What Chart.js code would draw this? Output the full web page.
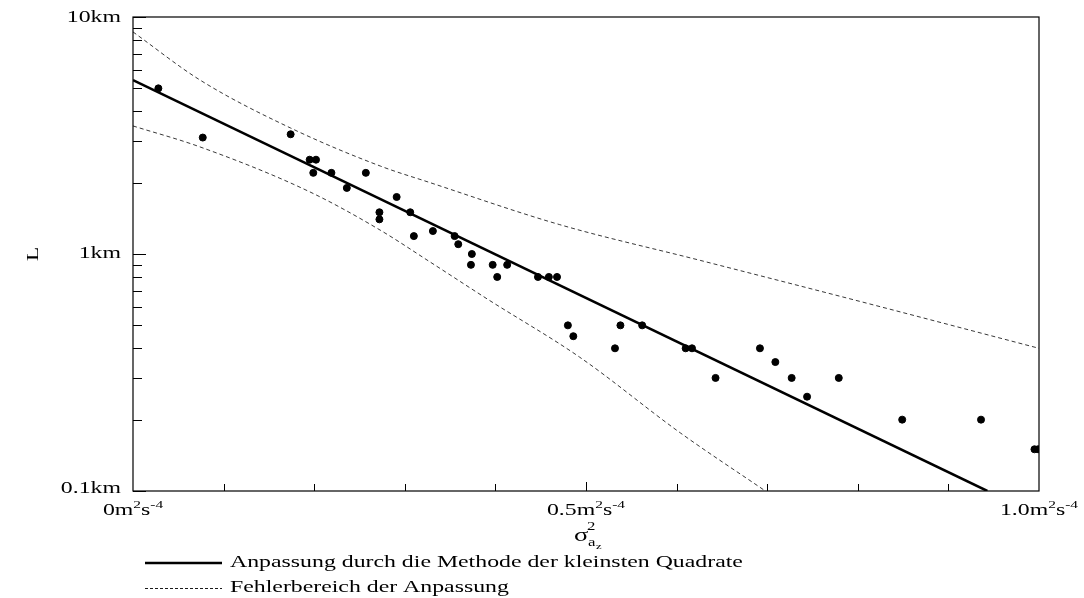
<!DOCTYPE html>
<html lang="de">
<head>
    <meta charset="UTF-8">
    <title>L gegen sigma</title>
    <script src="https://cdn.jsdelivr.net/npm/chart.js"></script>
    <style>
        body { margin: 0; background: #ffffff; }
        #wrap { width: 1084px; height: 598px; }
    </style>
</head>
<body>
<div id="wrap"><canvas id="chart"></canvas></div>
<script>
    // Messpunkte (sigma^2 in m^2 s^-4, L in km)
    const sigmaSq = [0.028, 0.077, 0.174, 0.195, 0.202, 0.199, 0.219, 0.236, 0.257, 0.291,
                     0.272, 0.272, 0.306, 0.310, 0.331, 0.355, 0.359, 0.374, 0.373, 0.397,
                     0.402, 0.413, 0.447, 0.459, 0.468, 0.480, 0.486, 0.532, 0.538, 0.562,
                     0.610, 0.617, 0.643, 0.692, 0.709, 0.727, 0.744, 0.779, 0.849, 0.936,
                     0.995, 0.999];
    const lengthKm = [5.0, 3.1, 3.2, 2.5, 2.5, 2.2, 2.2, 1.9, 2.2, 1.74,
                      1.5, 1.4, 1.5, 1.19, 1.25, 1.19, 1.1, 1.0, 0.9, 0.9,
                      0.8, 0.9, 0.8, 0.8, 0.8, 0.5, 0.45, 0.4, 0.5, 0.5,
                      0.4, 0.4, 0.3, 0.4, 0.35, 0.3, 0.25, 0.3, 0.2, 0.2,
                      0.15, 0.15];

    // Ausgleichsgerade
    const fitX = [0, 0.943];
    const fitY = [5.42, 0.1];

    // Fehlerbereich
    const upperX = [0, 0.074, 0.174, 0.273, 0.328, 0.471, 0.626, 0.810, 1.0];
    const upperY = [8.65, 5.42, 3.40, 2.35, 2.0, 1.33, 0.94, 0.62, 0.40];
    const lowerX = [0, 0.074, 0.195, 0.273, 0.328, 0.391, 0.493, 0.604, 0.698];
    const lowerY = [3.47, 2.83, 1.83, 1.26, 0.925, 0.646, 0.367, 0.176, 0.1];

    // Achsenbeschriftung
    const xTickValues = [0, 0.5, 1.0];
    const xTickLabels = ['0', '0.5', '1.0'];
    const xMinorTicks = [0.1, 0.2, 0.3, 0.4, 0.5, 0.6, 0.7, 0.8, 0.9];
    const yTickValues = [10, 1, 0.1];
    const yTickLabels = ['10km', '1km', '0.1km'];
    const yMinorTicks = [0.2, 0.3, 0.4, 0.5, 0.6, 0.7, 0.8, 0.9, 2, 3, 4, 5, 6, 7, 8, 9];

    const legendItems = ['Anpassung durch die Methode der kleinsten Quadrate', 'Fehlerbereich der Anpassung'];

    const toPts = (xs, ys) => xs.map((x, i) => ({ x: x, y: ys[i] }));
    const serif = '"Liberation Serif", "DejaVu Serif", serif';
    const SX = 1.4; // Schrift im Original ist breit gezogen

    // breite Schrift: misst und zeichnet mit horizontaler Streckung
    function textW(ctx, s, size) {
        ctx.font = size + 'px ' + serif;
        return ctx.measureText(s).width * SX;
    }
    function text(ctx, s, x, y, size, align) {
        ctx.font = size + 'px ' + serif;
        const w = ctx.measureText(s).width * SX;
        let x0 = x;
        if (align === 'right') x0 = x - w;
        else if (align === 'center') x0 = x - w / 2;
        ctx.save();
        ctx.translate(x0, y);
        ctx.scale(SX, 1);
        ctx.textAlign = 'left';
        ctx.fillText(s, 0, 0);
        ctx.restore();
        return w;
    }

    const decorations = {
        id: 'decorations',
        afterDraw(chart) {
            const ctx = chart.ctx;
            const a = chart.chartArea;
            const xs = chart.scales.x, ys = chart.scales.y;
            ctx.save();
            ctx.strokeStyle = '#000';
            ctx.fillStyle = '#000';

            // Rahmen
            ctx.lineWidth = 1.2;
            ctx.strokeRect(a.left, a.top, a.right - a.left, a.bottom - a.top);

            // x Striche
            ctx.lineWidth = 1;
            xMinorTicks.forEach(v => {
                const px = Math.round(xs.getPixelForValue(v)) + 0.5;
                ctx.beginPath(); ctx.moveTo(px, a.bottom); ctx.lineTo(px, a.bottom - (v === 0.5 ? 9 : 7)); ctx.stroke();
            });
            // y Striche
            yMinorTicks.forEach(v => {
                const py = Math.round(ys.getPixelForValue(v)) + 0.5;
                ctx.beginPath(); ctx.moveTo(a.left, py); ctx.lineTo(a.left + 9, py); ctx.stroke();
            });
            yTickValues.forEach(v => {
                const py = Math.round(ys.getPixelForValue(v)) + 0.5;
                ctx.beginPath(); ctx.moveTo(a.left, py); ctx.lineTo(a.left + 13, py); ctx.stroke();
            });

            // y Beschriftung
            ctx.textBaseline = 'middle';
            yTickValues.forEach((v, i) => {
                let py = ys.getPixelForValue(v);
                if (v === 10) py += 1;
                if (v === 0.1) py -= 2;
                text(ctx, yTickLabels[i], a.left - 12, py, 17, 'right');
            });

            // x Beschriftung mit Exponenten
            ctx.textBaseline = 'alphabetic';
            xTickValues.forEach((v, i) => {
                const px = xs.getPixelForValue(v);
                const base = xTickLabels[i] + 'm';
                const total = textW(ctx, base, 17) + textW(ctx, '2', 11) + textW(ctx, 's', 17) + textW(ctx, '-4', 11);
                let x0 = px - total / 2;
                const yb = a.bottom + 24;
                x0 += text(ctx, base, x0, yb, 17);
                x0 += text(ctx, '2', x0, yb - 7, 11);
                x0 += text(ctx, 's', x0, yb, 17);
                text(ctx, '-4', x0, yb - 7, 11);
            });

            // x Titel: sigma^2_{a_z}
            const cx = xs.getPixelForValue(0.5);
            text(ctx, 'σ', cx - 12, a.bottom + 50, 19);
            text(ctx, '2', cx + 1, a.bottom + 39, 12);
            text(ctx, 'a', cx + 2, a.bottom + 55, 12);
            text(ctx, 'z', cx + 10, a.bottom + 58, 9);

            // y Titel
            ctx.save();
            ctx.translate(34, ys.getPixelForValue(1));
            ctx.rotate(-Math.PI / 2);
            ctx.textBaseline = 'middle';
            text(ctx, 'L', 0, 0, 17, 'center');
            ctx.restore();

            // Legende
            ctx.textBaseline = 'middle';
            ctx.lineWidth = 2.4;
            ctx.setLineDash([]);
            ctx.beginPath(); ctx.moveTo(145, 563); ctx.lineTo(222, 563); ctx.stroke();
            text(ctx, legendItems[0], 230, 563, 17);
            ctx.lineWidth = 0.9;
            ctx.setLineDash([3, 2]);
            ctx.beginPath(); ctx.moveTo(145, 588.5); ctx.lineTo(222, 588.5); ctx.stroke();
            ctx.setLineDash([]);
            text(ctx, legendItems[1], 230, 588, 17);
            ctx.restore();
        }
    };

    new Chart(document.getElementById('chart').getContext('2d'), {
        type: 'scatter',
        data: {
            datasets: [
                {
                    label: 'Messpunkte',
                    data: toPts(sigmaSq, lengthKm),
                    backgroundColor: '#000',
                    borderColor: '#000',
                    pointRadius: 3.5,
                    pointHoverRadius: 3.5
                },
                {
                    label: legendItems[0],
                    data: toPts(fitX, fitY),
                    showLine: true,
                    borderColor: '#000',
                    borderWidth: 2.5,
                    pointRadius: 0
                },
                {
                    label: legendItems[1],
                    data: toPts(upperX, upperY),
                    showLine: true,
                    borderColor: '#222',
                    borderWidth: 0.9,
                    borderDash: [4, 3],
                    cubicInterpolationMode: 'monotone',
                    pointRadius: 0
                },
                {
                    label: legendItems[1] + ' (unten)',
                    data: toPts(lowerX, lowerY),
                    showLine: true,
                    borderColor: '#222',
                    borderWidth: 0.9,
                    borderDash: [4, 3],
                    cubicInterpolationMode: 'monotone',
                    pointRadius: 0
                }
            ]
        },
        options: {
            responsive: true,
            maintainAspectRatio: false,
            animation: false,
            layout: { padding: { top: 17, right: 45, left: 0, bottom: 0 } },
            plugins: { legend: { display: false }, tooltip: { enabled: false } },
            scales: {
                x: {
                    type: 'linear', min: 0, max: 1,
                    grid: { display: false, drawTicks: false },
                    border: { display: false },
                    ticks: { display: false },
                    afterFit: s => { s.height = 107; }
                },
                y: {
                    type: 'logarithmic', min: 0.1, max: 10,
                    grid: { display: false, drawTicks: false },
                    border: { display: false },
                    ticks: { display: false },
                    afterFit: s => { s.width = 133; }
                }
            }
        },
        plugins: [decorations]
    });
</script>
</body>
</html>
